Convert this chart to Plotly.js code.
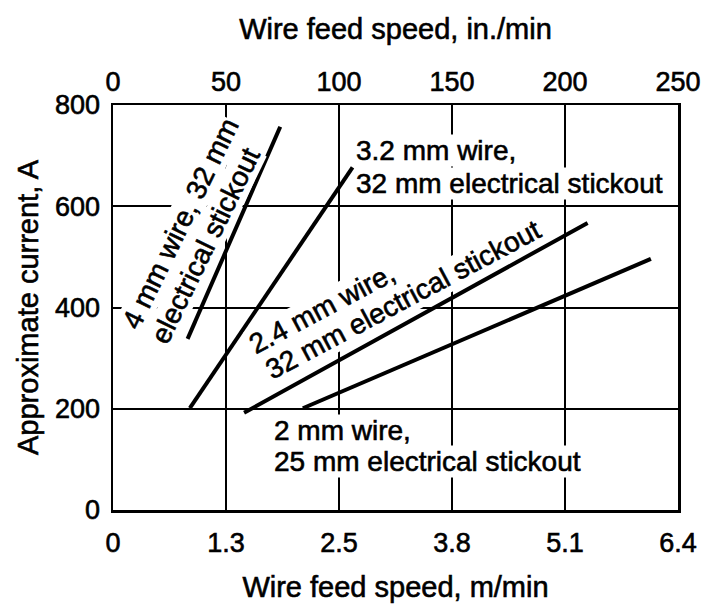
<!DOCTYPE html>
<html>
<head>
<meta charset="utf-8">
<script src="https://cdn.plot.ly/plotly-3.0.1.min.js"></script>
<style>
html,body{margin:0;padding:0;background:#fff;}
#chart{width:706px;height:609px;}
#chart svg text{stroke:#000;stroke-width:0.6px;}
</style>
</head>
<body>
<div id="chart"></div>
<script>
// Wire feed speed (in./min) tick positions and labels
const speedTicksIn = [0, 50, 100, 150, 200, 250];
const speedLabelsIn = ['0', '50', '100', '150', '200', '250'];
const speedLabelsM = ['0', '1.3', '2.5', '3.8', '5.1', '6.4'];
const currentTicks = [0, 200, 400, 600, 800];

// Series: wire feed speed (in./min) vs approximate current (A)
const wire4mm_x = [33, 74];
const wire4mm_y = [338, 757];
const wire32mm_x = [34, 106];
const wire32mm_y = [201, 677];
const wire24mm_x = [58, 210];
const wire24mm_y = [192, 567];
const wire2mm_x = [84, 238];
const wire2mm_y = [201, 496];

const FONT = '"Liberation Sans", Arial, Helvetica, sans-serif';
const lineStyle = {color: '#000', width: 4};

const traces = [
  {x: wire4mm_x, y: wire4mm_y, xaxis: 'x2', yaxis: 'y', mode: 'lines', line: lineStyle, hoverinfo: 'skip'},
  {x: wire32mm_x, y: wire32mm_y, xaxis: 'x2', yaxis: 'y', mode: 'lines', line: lineStyle, hoverinfo: 'skip'},
  {x: wire24mm_x, y: wire24mm_y, xaxis: 'x', yaxis: 'y', mode: 'lines', line: lineStyle, hoverinfo: 'skip'},
  {x: wire2mm_x, y: wire2mm_y, xaxis: 'x', yaxis: 'y', mode: 'lines', line: lineStyle, hoverinfo: 'skip'}
];

const annFont = {family: FONT, size: 28, color: '#000'};
function lab(text, x, y, angle, xanchor) {
  return {text: text, x: x, y: y, xref: 'x', yref: 'y', showarrow: false,
    textangle: angle, xanchor: xanchor || 'center', yanchor: 'middle', align: 'left',
    bgcolor: '#fff', borderpad: 0, font: annFont};
}

const annotations = [
  lab('4 mm wire, 32 mm', 30.0, 565, -64),
  lab('electrical stickout', 41.0, 522, -64),
  lab('3.2 mm wire,', 107, 711, 0, 'left'),
  lab('32 mm electrical stickout', 107, 645, 0, 'left'),
  lab('2.4 mm wire,', 92.5, 398, -28),
  lab('32 mm electrical stickout', 128.5, 415, -28),
  lab('2 mm wire,', 70.8, 158, 0, 'left'),
  lab('25 mm electrical stickout', 70.8, 95, 0, 'left')
];

const tickFont = {family: FONT, size: 27, color: '#000'};
const titleFont = {family: FONT, size: 29, color: '#000'};

const layout = {
  width: 706, height: 609,
  margin: {l: 113, r: 28, t: 105, b: 99},
  paper_bgcolor: '#fff', plot_bgcolor: '#fff',
  showlegend: false,
  xaxis: {
    range: [0, 250], tickmode: 'array', tickvals: speedTicksIn, ticktext: speedLabelsM,
    showgrid: true, gridcolor: '#000', gridwidth: 2, zeroline: false,
    showline: true, linecolor: '#000', linewidth: 2.5, mirror: true,
    ticks: '', ticklabelstandoff: 7, tickfont: tickFont,
    title: {text: 'Wire feed speed, m/min', font: titleFont, standoff: 20}
  },
  xaxis2: {
    range: [0, 250], overlaying: 'x', side: 'top', anchor: 'y',
    tickmode: 'array', tickvals: speedTicksIn, ticktext: speedLabelsIn,
    showgrid: false, zeroline: false, showline: false,
    ticks: '', ticklabelstandoff: 8, tickfont: tickFont,
    title: {text: 'Wire feed speed, in./min', font: titleFont, standoff: 18}
  },
  yaxis: {
    range: [0, 800], tickmode: 'array', tickvals: currentTicks,
    showgrid: true, gridcolor: '#000', gridwidth: 2, zeroline: false,
    showline: true, linecolor: '#000', linewidth: 2.5, mirror: true,
    ticks: '', ticklabelstandoff: 5, tickfont: tickFont,
    title: {text: 'Approximate current, A', font: titleFont, standoff: 8}
  },
  annotations: annotations
};

Plotly.newPlot('chart', traces, layout, {staticPlot: true, displayModeBar: false});
</script>
</body>
</html>
